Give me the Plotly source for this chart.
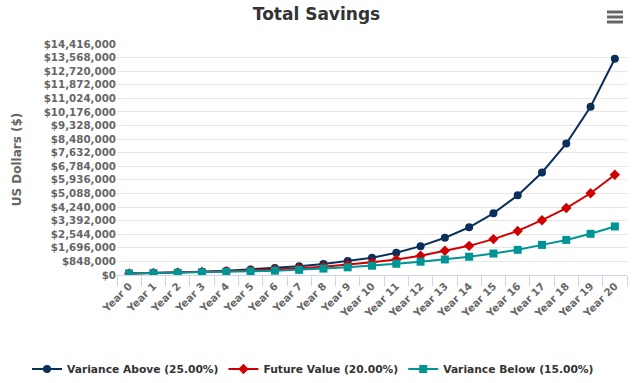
import plotly.graph_objects as go

years = [f"Year {i}" for i in range(21)]

variance_above = [100000, 128000, 163000, 209000, 268000, 343000, 439000, 540000, 690000,
                  870000, 1070000, 1390000, 1800000, 2320000, 2980000, 3850000, 4970000,
                  6400000, 8200000, 10500000, 13500000]
future_value = [100000, 123000, 150000, 185000, 228000, 280000, 343000, 420000, 520000,
                640000, 790000, 970000, 1200000, 1510000, 1820000, 2240000, 2750000,
                3420000, 4180000, 5100000, 6260000]
variance_below = [100000, 119000, 141000, 167000, 197000, 232000, 272000, 320000, 400000,
                  480000, 580000, 700000, 830000, 970000, 1140000, 1340000, 1570000,
                  1880000, 2190000, 2570000, 3030000]

y_ticks = [i * 848000 for i in range(18)]
y_tick_labels = [f"${v:,}" for v in y_ticks]

W, H = 633, 383
ML, MR, MT, MB = 117, 6, 44, 108

fig = go.Figure()
series = [
    ("Variance Above (25.00%)", variance_above, "#0a2f5a", "circle", 8),
    ("Future Value (20.00%)", future_value, "#d00000", "diamond", 8),
    ("Variance Below (15.00%)", variance_below, "#009494", "square", 8),
]
for name, vals, color, sym, sz in series:
    fig.add_trace(go.Scatter(
        x=years, y=vals, name=name, mode="lines+markers",
        line=dict(color=color, width=2),
        marker=dict(symbol=sym, size=sz, color=color),
    ))

pw = W - ML - MR
ph = H - MT - MB
shapes = []
for yy in (12, 17, 22):
    shapes.append(dict(
        type="rect", xref="paper", yref="paper",
        x0=(607 - ML) / pw, x1=(623 - ML) / pw,
        y0=(H - MB - yy - 1.5) / ph, y1=(H - MB - yy + 1.5) / ph,
        fillcolor="#666666", line=dict(width=0),
    ))

fig.update_layout(
    width=W, height=H,
    margin=dict(l=ML, r=MR, t=MT, b=MB, autoexpand=False),
    paper_bgcolor="white", plot_bgcolor="white",
    font=dict(family="DejaVu Sans", size=11, color="#666666"),
    title=dict(text="<b>Total Savings</b>", x=0.5, xref="container", xanchor="center",
               y=1 - 14 / H, yanchor="middle", yref="container",
               font=dict(size=17, color="#333333")),
    xaxis=dict(
        type="category", range=[-0.5, 20.5], automargin=False,
        tickangle=-45, tickfont=dict(size=10.3, color="#666666", weight="bold"),
        showgrid=False, showline=True, linecolor="#ccd6eb", linewidth=1,
        ticks="outside", tickson="boundaries", ticklen=10, tickcolor="#ccd6eb",
        zeroline=False, fixedrange=True,
    ),
    yaxis=dict(
        range=[0, 14416000], tickvals=y_ticks, ticktext=y_tick_labels, automargin=False,
        tickfont=dict(size=10.3, color="#666666", weight="bold"),
        showgrid=True, gridcolor="#e6e6e6", gridwidth=1,
        zeroline=False, showline=False, ticks="",
        title=dict(text="US Dollars ($)", font=dict(size=12, color="#666666", weight="bold"),
                   standoff=19),
        fixedrange=True,
    ),
    legend=dict(
        orientation="h", xref="paper", x=(27 - ML) / pw, xanchor="left",
        yref="paper", y=(H - MB - 369) / ph, yanchor="middle",
        font=dict(size=10.7, color="#333333", weight="bold"),
        itemwidth=30,
    ),
    shapes=shapes,
)

fig.write_html("out.html", config={"displayModeBar": False},
               post_script="document.body.style.margin='0';")
